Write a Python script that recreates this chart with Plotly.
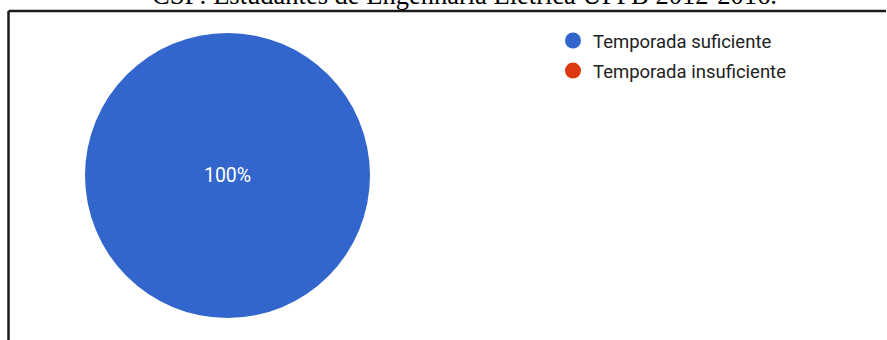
import plotly.graph_objects as go

# Survey answers
categories = ["Temporada suficiente", "Temporada insuficiente"]
shares = [100, 0]
colors = ["#3366cc", "#dc3912"]
title_text = "CSP: Estudantes de Engenharia Elétrica UFPB 2012-2016."

W, H = 887, 340


def px_x(x):
    return x / W


def px_y(y):
    return 1 - y / H


fig = go.Figure()

fig.add_trace(go.Pie(
    labels=categories,
    values=shares,
    marker=dict(colors=colors, line=dict(width=0)),
    sort=False,
    direction="clockwise",
    textinfo="percent",
    textposition="inside",
    insidetextorientation="horizontal",
    textfont=dict(family="Roboto, Arial, sans-serif", size=19.5, color="white"),
    showlegend=False,
    hoverinfo="label+percent",
    domain=dict(x=[px_x(85), px_x(370)], y=[px_y(318), px_y(33)]),
))

# Circle legend entries, one per category
for i, (name, col) in enumerate(zip(categories, colors)):
    fig.add_trace(go.Scatter(
        x=[None], y=[None], mode="markers", name=name,
        legendgroup=f"g{i}",
        marker=dict(symbol="circle", size=18, color=col),
    ))

fig.update_layout(
    width=W, height=H,
    margin=dict(l=0, r=0, t=0, b=0),
    paper_bgcolor="white",
    plot_bgcolor="white",
    xaxis=dict(visible=False),
    yaxis=dict(visible=False),
    legend=dict(
        x=px_x(553), y=px_y(22), xanchor="left", yanchor="top",
        font=dict(family="Roboto, Arial, sans-serif", size=18.5, color="#222222"),
        itemsizing="trace",
        tracegroupgap=3,
        bgcolor="rgba(0,0,0,0)",
    ),
    shapes=[
        dict(type="line", xref="paper", yref="paper",
             x0=px_x(8.5), x1=px_x(886), y0=px_y(11), y1=px_y(11),
             line=dict(color="#1a1a1a", width=2.5)),
        dict(type="line", xref="paper", yref="paper",
             x0=px_x(8.5), x1=px_x(8.5), y0=px_y(11), y1=px_y(341),
             line=dict(color="#1a1a1a", width=2.5)),
    ],
    annotations=[
        dict(text=title_text, xref="paper", yref="paper",
             x=px_x(464), y=px_y(-5), xanchor="center", yanchor="middle",
             showarrow=False,
             font=dict(family="Liberation Serif, Times New Roman, serif", size=26.5, color="black")),
    ],
)

fig.write_html("out.html")
